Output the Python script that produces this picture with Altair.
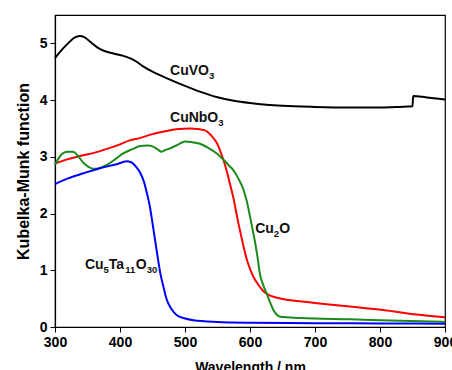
import altair as alt
import pandas as pd

# CuVO3 (black)
vo_x = [300, 310, 320, 330, 338, 345, 355, 365, 375, 390, 405, 415, 425, 435, 450, 475, 500, 525, 550, 575, 600, 625, 650, 700, 750, 800, 830, 850, 851, 870, 900]
vo_y = [4.74, 4.88, 5.0, 5.1, 5.13, 5.11, 5.02, 4.93, 4.87, 4.82, 4.78, 4.74, 4.68, 4.60, 4.50, 4.37, 4.25, 4.14, 4.05, 3.99, 3.95, 3.92, 3.90, 3.88, 3.87, 3.87, 3.88, 3.89, 4.07, 4.05, 4.01]

# CuNbO3 (red)
nb_x = [300, 320, 340, 360, 380, 400, 415, 430, 450, 470, 490, 508, 520, 530, 540, 550, 556, 563, 569, 575, 580, 585, 590, 597, 605, 613, 620, 628, 640, 656, 680, 703, 754, 805, 856, 900]
nb_y = [2.88, 2.96, 3.02, 3.07, 3.14, 3.22, 3.29, 3.33, 3.40, 3.45, 3.49, 3.50, 3.49, 3.47, 3.38, 3.22, 3.05, 2.80, 2.53, 2.25, 1.95, 1.68, 1.42, 1.12, 0.89, 0.74, 0.64, 0.57, 0.52, 0.48, 0.45, 0.42, 0.36, 0.30, 0.22, 0.17]

# Cu2O (green)
o_x = [300, 307, 313, 320, 328, 335, 344, 352, 359, 368, 380, 393, 405, 418, 431, 443, 451, 458, 464, 470, 477, 490, 500, 510, 523, 537, 549, 560, 569, 574, 582, 590, 595, 600, 604, 608, 612, 615, 620, 626, 631, 636, 641, 647, 677, 754, 831, 900]
o_y = [2.86, 3.00, 3.07, 3.09, 3.09, 3.02, 2.89, 2.82, 2.79, 2.80, 2.86, 2.96, 3.06, 3.13, 3.19, 3.20, 3.18, 3.13, 3.09, 3.12, 3.15, 3.22, 3.27, 3.26, 3.23, 3.15, 3.06, 2.94, 2.83, 2.77, 2.62, 2.42, 2.22, 1.95, 1.72, 1.48, 1.20, 0.95, 0.75, 0.58, 0.43, 0.30, 0.22, 0.18, 0.16, 0.135, 0.11, 0.09]

# Cu5Ta11O30 (blue)
ta_x = [300, 320, 344, 369, 395, 410, 418, 425, 431, 436, 441, 446, 450, 454, 458, 462, 467, 472, 479, 487, 500, 513, 549, 600, 700, 800, 900]
ta_y = [2.52, 2.62, 2.71, 2.80, 2.87, 2.92, 2.90, 2.82, 2.72, 2.59, 2.38, 2.12, 1.83, 1.53, 1.23, 0.95, 0.70, 0.48, 0.32, 0.21, 0.15, 0.12, 0.09, 0.076, 0.068, 0.062, 0.058]

series_names = ["CuVO3", "CuNbO3", "Cu2O", "Cu5Ta11O30"]
series_colors = ["#000000", "#ff0000", "#1a8a1a", "#0000ff"]

label_text = ["CuVO₃", "CuNbO₃", "Cu₂O", "Cu₅Ta₁₁O₃₀"]
label_x = [477, 477, 608, 346]
label_y = [4.53, 3.70, 1.75, 1.11]

x_ticks = [300, 350, 400, 450, 500, 550, 600, 650, 700, 750, 800, 850, 900]
y_ticks = [0, 0.5, 1, 1.5, 2, 2.5, 3, 3.5, 4, 4.5, 5]

rows = []
for i, (xs, ys) in enumerate([(vo_x, vo_y), (nb_x, nb_y), (o_x, o_y), (ta_x, ta_y)]):
    for j, (a, b) in enumerate(zip(xs, ys)):
        rows.append({"s": series_names[i], "order": i, "idx": j, "x": a, "y": b})
df = pd.DataFrame(rows)

FONT = "Liberation Sans"
MAIN_SIZE = 14
SUB_SIZE = 9.5
SUB_DY = 4

# Arial/Liberation Sans Bold advance widths (em) for laying out subscripts
WIDTHS = {"C": .722, "u": .611, "V": .667, "O": .778, "N": .722, "b": .611, "T": .611, "a": .556}
SUBS = "₀₁₂₃₄₅₆₇₈₉"

xscale = alt.Scale(domain=[300, 900], nice=False, zero=False)
yscale = alt.Scale(domain=[0, 5.5], nice=False, zero=False)

xaxis = alt.Axis(
    values=x_ticks, title="Wavelength / nm",
    labelExpr="datum.value % 100 === 0 ? datum.label : ''",
    tickSize={"condition": {"test": "datum.value % 100 === 0", "value": 5}, "value": 3},
    grid=False, domainColor="black", tickColor="black", domainWidth=1.2, tickWidth=1,
    labelFont=FONT, labelFontSize=14, labelFontWeight="bold", labelColor="black",
    labelPadding=3, labelFlush=False,
    titleFont=FONT, titleFontSize=14, titleFontWeight="bold", titleColor="black",
    titlePadding=11, format="d",
)
yaxis = alt.Axis(
    values=y_ticks, title="Kubelka-Munk function",
    labelExpr="datum.value % 1 === 0 ? datum.label : ''",
    tickSize={"condition": {"test": "datum.value % 1 === 0", "value": 5}, "value": 3},
    grid=False, domainColor="black", tickColor="black", domainWidth=1.2, tickWidth=1,
    labelFont=FONT, labelFontSize=14, labelFontWeight="bold", labelColor="black",
    labelPadding=3, labelFlush=False,
    titleFont=FONT, titleFontSize=16, titleFontWeight="bold", titleColor="black",
    titlePadding=8, format="d",
)

lines = alt.Chart(df).mark_line(strokeWidth=2, interpolate="monotone").encode(
    x=alt.X("x:Q", scale=xscale, axis=xaxis),
    y=alt.Y("y:Q", scale=yscale, axis=yaxis),
    color=alt.Color("s:N", scale=alt.Scale(domain=series_names, range=series_colors), legend=None),
    detail="s:N",
    order="idx:Q",
)

layers = [lines]
for txt, lx, ly in zip(label_text, label_x, label_y):
    # split into runs of normal / subscript characters
    runs = []
    for ch in txt:
        sub = ch in SUBS
        c = str(SUBS.index(ch)) if sub else ch
        if runs and runs[-1][1] == sub:
            runs[-1][0] += c
        else:
            runs.append([c, sub])
    off = 0.0
    for seg, sub in runs:
        size = SUB_SIZE if sub else MAIN_SIZE
        seg_df = pd.DataFrame({"x": [lx], "y": [ly], "t": [seg]})
        layers.append(
            alt.Chart(seg_df).mark_text(
                align="left", baseline="alphabetic", font=FONT, fontSize=size,
                fontWeight="bold", color="#111111", dx=off, dy=(5 + SUB_DY) if sub else 5,
            ).encode(x=alt.X("x:Q", scale=xscale), y=alt.Y("y:Q", scale=yscale), text="t:N")
        )
        off += sum(WIDTHS.get(c, .556) for c in seg) * size

chart = alt.layer(*layers).properties(
    width=390, height=312,
    padding={"left": 55, "top": 15, "right": 7, "bottom": 43},
    autosize=alt.AutoSizeParams(type="none"),
    background="white",
).configure_view(stroke="black", strokeWidth=1.2)

chart.save("out.html", embed_options={"renderer": "svg", "actions": False})
